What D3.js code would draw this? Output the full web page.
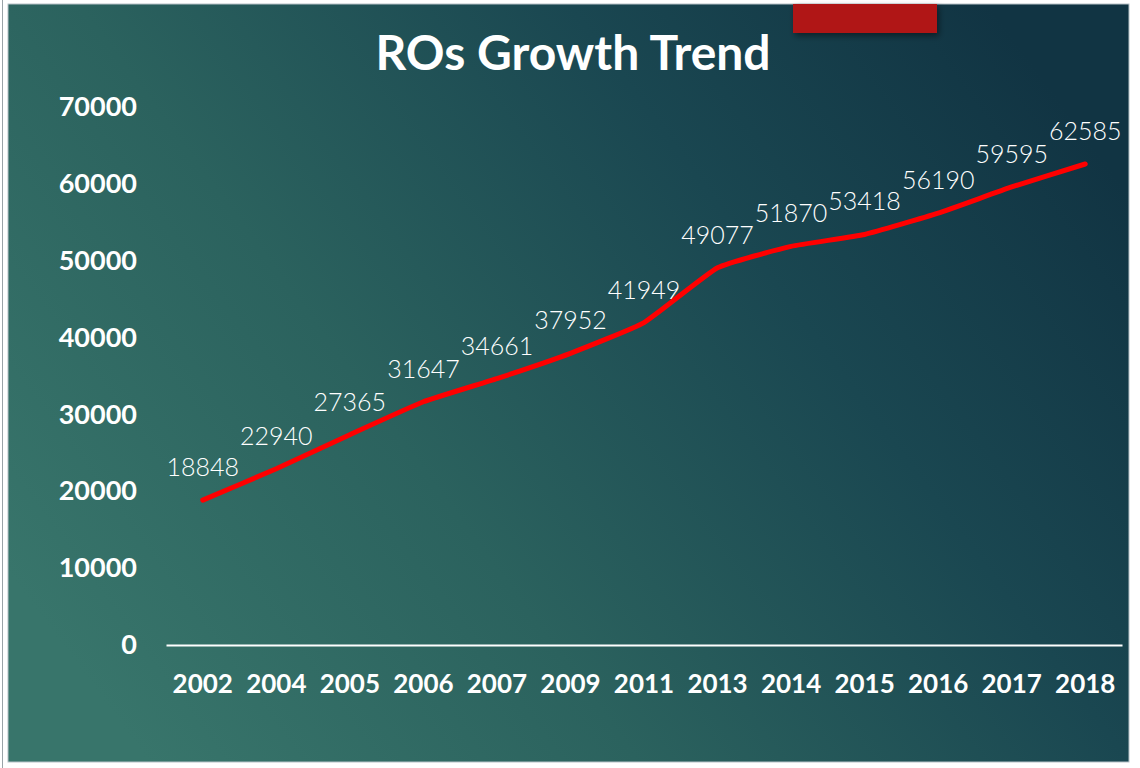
<!DOCTYPE html>
<html>
<head>
<meta charset="utf-8">
<script src="https://cdn.jsdelivr.net/npm/d3@7.9.0/dist/d3.min.js"></script>
<style>
  html, body { margin: 0; padding: 0; background: #ffffff; }
  svg { display: block; }
</style>
</head>
<body>
<div id="chart"></div>
<script>
// chart data
const years = ['2002', '2004', '2005', '2006', '2007', '2009', '2011', '2013', '2014', '2015', '2016', '2017', '2018'];
const roCounts = [18848, 22940, 27365, 31647, 34661, 37952, 41949, 49077, 51870, 53418, 56190, 59595, 62585];
const yTicks = [0, 10000, 20000, 30000, 40000, 50000, 60000, 70000];
const chartTitle = 'ROs Growth Trend';

const width = 1140;
const height = 768;
const margin = { top: 107, right: 18, bottom: 123, left: 166 };

const svg = d3.select('#chart')
  .append('svg')
  .attr('width', width)
  .attr('height', height);

const defs = svg.append('defs');

// slide background gradient, teal on the left to dark blue on the right
const grad = defs.append('linearGradient')
  .attr('id', 'bg')
  .attr('x1', '0%').attr('y1', '75%')
  .attr('x2', '100%').attr('y2', '25%');
grad.append('stop').attr('offset', '0%').attr('stop-color', '#38756b');
grad.append('stop').attr('offset', '35%').attr('stop-color', '#2b625e');
grad.append('stop').attr('offset', '70%').attr('stop-color', '#1a4751');
grad.append('stop').attr('offset', '100%').attr('stop-color', '#113443');

const shadow = defs.append('filter')
  .attr('id', 'shadow')
  .attr('x', '-20%').attr('y', '-20%')
  .attr('width', '140%').attr('height', '160%');
shadow.append('feDropShadow')
  .attr('dx', 2).attr('dy', 3)
  .attr('stdDeviation', 3)
  .attr('flood-color', '#000')
  .attr('flood-opacity', 0.45);

// page edge line
svg.append('line')
  .attr('x1', 2.5).attr('x2', 2.5)
  .attr('y1', 0).attr('y2', height)
  .attr('stroke', '#9aa3a8')
  .attr('stroke-width', 1);

svg.append('rect')
  .attr('x', 8)
  .attr('y', 4)
  .attr('width', 1121)
  .attr('height', 758)
  .attr('fill', 'url(#bg)')
  .attr('stroke', '#b7c2c8')
  .attr('stroke-width', 1);

// red tab at the top
svg.append('rect')
  .attr('x', 793)
  .attr('y', 4)
  .attr('width', 144)
  .attr('height', 29)
  .attr('fill', '#b01615')
  .attr('filter', 'url(#shadow)');

svg.append('text')
  .attr('x', 573)
  .attr('y', 70)
  .attr('text-anchor', 'middle')
  .attr('fill', '#ffffff')
  .style('font-family', 'Lato, "Open Sans", sans-serif')
  .style('font-weight', 700)
  .style('font-size', '48px')
  .text(chartTitle);

const xScale = d3.scaleBand()
  .domain(years)
  .range([margin.left, margin.left + 956])
  .padding(0);

const yScale = d3.scaleLinear()
  .domain([0, 70000])
  .range([645, 107]);

const xAxis = d3.axisBottom(xScale)
  .tickSize(0)
  .tickPadding(30);

const yAxis = d3.axisLeft(yScale)
  .tickValues(yTicks)
  .tickSize(0)
  .tickPadding(29)
  .tickFormat(d3.format('d'));

const gx = svg.append('g')
  .attr('transform', `translate(0,${yScale(0)})`)
  .call(xAxis);
gx.select('.domain')
  .attr('stroke', '#ffffff')
  .attr('stroke-width', 2);
gx.selectAll('text')
  .attr('fill', '#ffffff')
  .style('font-family', 'Lato, "Open Sans", sans-serif')
  .style('font-weight', 700)
  .style('font-size', '26px');

const gy = svg.append('g')
  .attr('transform', `translate(${margin.left},0)`)
  .call(yAxis);
gy.select('.domain').remove();
gy.selectAll('text')
  .attr('fill', '#ffffff')
  .style('font-family', 'Lato, "Open Sans", sans-serif')
  .style('font-weight', 700)
  .style('font-size', '27px');

const points = years.map((y, i) => ({ year: y, value: roCounts[i] }));

const line = d3.line()
  .x(d => xScale(d.year) + xScale.bandwidth() / 2)
  .y(d => yScale(d.value))
  .curve(d3.curveCardinal.tension(0.6));

svg.append('path')
  .datum(points)
  .attr('fill', 'none')
  .attr('stroke', '#ff0000')
  .attr('stroke-width', 5)
  .attr('stroke-linecap', 'round')
  .attr('stroke-linejoin', 'round')
  .attr('d', line);

// value labels above each point
svg.selectAll('.value-label')
  .data(points)
  .enter()
  .append('text')
  .attr('class', 'value-label')
  .attr('x', d => xScale(d.year) + xScale.bandwidth() / 2)
  .attr('y', d => yScale(d.value) - 24)
  .attr('text-anchor', 'middle')
  .attr('fill', '#ffffff')
  .style('font-family', 'Lato, "Open Sans", sans-serif')
  .style('font-weight', 300)
  .style('font-size', '25px')
  .text(d => d.value);
</script>
</body>
</html>
